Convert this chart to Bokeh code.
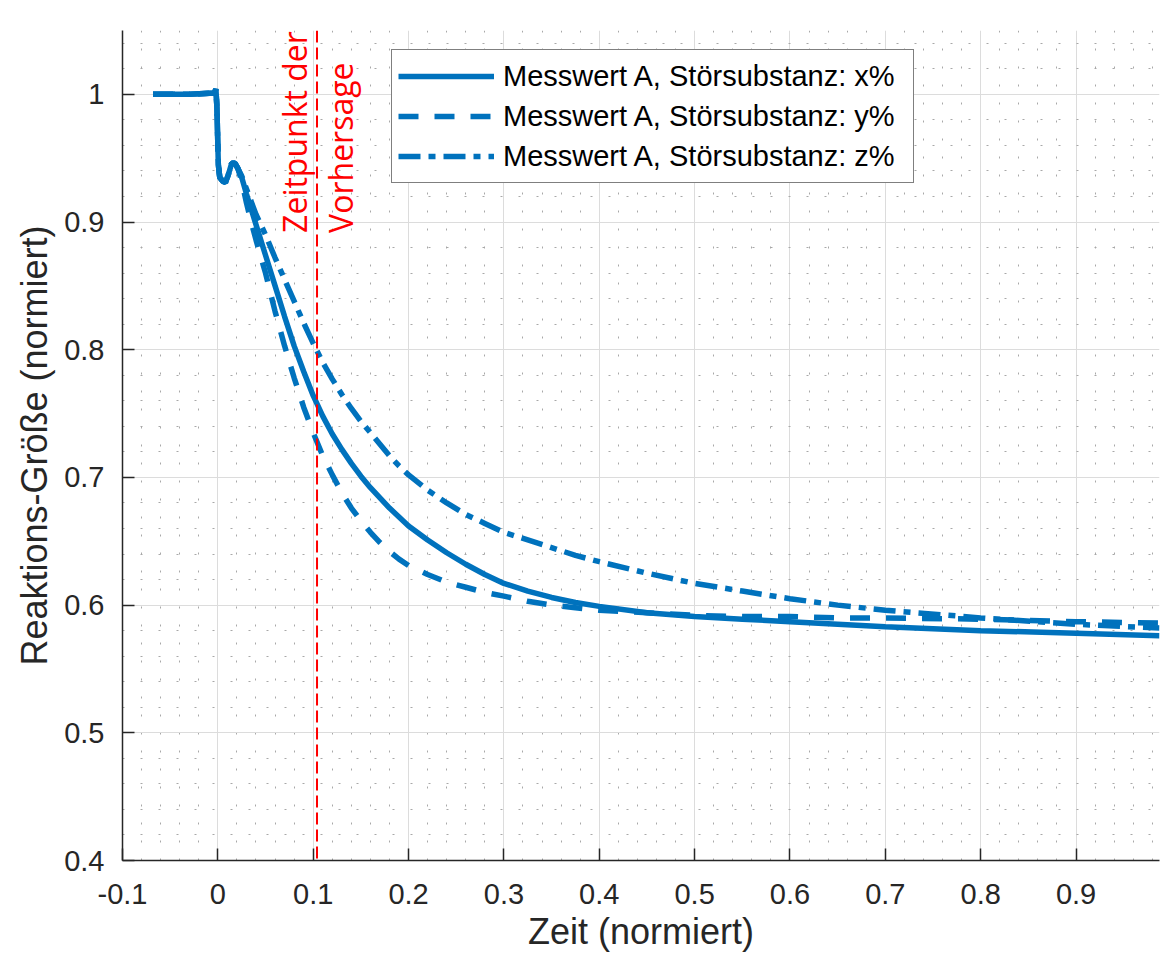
import math
from bokeh.plotting import figure
from bokeh.models import Range1d, FixedTicker, Label, Span, Legend, LegendItem
from bokeh.embed import file_html
from bokeh.resources import INLINE

# ---------------- data ----------------
# common start of all three measurements (baseline, step, small overshoot)
t_common = [-0.068, -0.03, -0.004, -0.002, -0.001, 0.0005, 0.002, 0.005, 0.008,
            0.011, 0.0145, 0.018, 0.021]
y_common = [1.0, 1.0, 1.001, 1.004, 0.99, 0.945, 0.935, 0.932, 0.931,
            0.937, 0.946, 0.946, 0.942]

t_decay = [0.025, 0.03, 0.035, 0.04, 0.05, 0.06, 0.07, 0.08, 0.09, 0.1, 0.11,
           0.12, 0.13, 0.14, 0.15, 0.16, 0.17, 0.18, 0.19, 0.2, 0.22, 0.24, 0.26,
           0.28, 0.3, 0.325, 0.35, 0.375, 0.4, 0.45, 0.5, 0.55, 0.6, 0.65, 0.7,
           0.8, 0.9, 0.9875]

y_x = [0.935, 0.922, 0.91, 0.898, 0.874, 0.85, 0.826, 0.803, 0.783, 0.764, 0.748,
       0.734, 0.722, 0.711, 0.701, 0.692, 0.684, 0.676, 0.669, 0.662, 0.651, 0.641, 0.632,
       0.624, 0.617, 0.611, 0.606, 0.602, 0.599, 0.594, 0.591, 0.589, 0.587, 0.585, 0.583,
       0.580, 0.578, 0.576]
y_y = [0.932, 0.915, 0.9, 0.886, 0.86, 0.83, 0.803, 0.778, 0.755, 0.735, 0.717,
       0.702, 0.688, 0.676, 0.666, 0.657, 0.649, 0.642, 0.636, 0.631, 0.624, 0.618, 0.614,
       0.610, 0.607, 0.603, 0.600, 0.598, 0.596, 0.594, 0.592, 0.591, 0.591, 0.590, 0.590,
       0.589, 0.587, 0.586]
y_z = [0.936, 0.926, 0.916, 0.906, 0.89, 0.872, 0.855, 0.838, 0.821, 0.805, 0.79,
       0.777, 0.765, 0.754, 0.744, 0.735, 0.726, 0.717, 0.709, 0.702, 0.69, 0.68, 0.671,
       0.664, 0.657, 0.651, 0.645, 0.639, 0.634, 0.625, 0.617, 0.611, 0.605, 0.600, 0.596,
       0.590, 0.585, 0.582]

series_labels = ["Messwert A, Störsubstanz: x%",
                 "Messwert A, Störsubstanz: y%",
                 "Messwert A, Störsubstanz: z%"]

x_ticks = [-0.1, 0.0, 0.1, 0.2, 0.3, 0.4, 0.5, 0.6, 0.7, 0.8, 0.9]
x_tick_labels = ["-0.1", "0", "0.1", "0.2", "0.3", "0.4", "0.5", "0.6", "0.7", "0.8", "0.9"]
y_ticks = [0.4, 0.5, 0.6, 0.7, 0.8, 0.9, 1.0]
y_tick_labels = ["0.4", "0.5", "0.6", "0.7", "0.8", "0.9", "1"]

t_prediction = 0.104

# ---------------- figure ----------------
BLUE = "#0072BD"
AX = "#262626"
FONT = "Liberation Sans"

p = figure(width=1160, height=959,
           x_range=Range1d(-0.1, 0.9875), y_range=Range1d(0.4, 1.05),
           output_backend="svg", toolbar_location=None,
           min_border_left=122, min_border_right=1,
           min_border_top=30, min_border_bottom=99)
p.outline_line_color = None
p.background_fill_color = "white"
p.border_fill_color = "white"

x_minor = [round(-0.1 + 0.02 * i, 4) for i in range(0, 55)]
x_minor = [v for v in x_minor if all(abs(v - m) > 1e-6 for m in x_ticks)]
y_minor = [round(0.4 + 0.02 * i, 4) for i in range(0, 33)]
y_minor = [v for v in y_minor if all(abs(v - m) > 1e-6 for m in y_ticks)]

p.xaxis.ticker = FixedTicker(ticks=x_ticks, minor_ticks=x_minor)
p.yaxis.ticker = FixedTicker(ticks=y_ticks, minor_ticks=y_minor)
p.xaxis.major_label_overrides = {t: l for t, l in zip(x_ticks, x_tick_labels)}
p.yaxis.major_label_overrides = {t: l for t, l in zip(y_ticks, y_tick_labels)}

for ax in (p.xaxis[0], p.yaxis[0]):
    ax.axis_line_color = AX
    ax.axis_line_width = 1.5
    ax.major_tick_in = 12
    ax.major_tick_out = 0
    ax.major_tick_line_color = AX
    ax.major_tick_line_width = 1.5
    ax.minor_tick_in = 0
    ax.minor_tick_out = 0
    ax.major_label_text_font = FONT
    ax.major_label_text_font_size = "29px"
    ax.major_label_text_color = AX
    ax.axis_label_text_font = FONT
    ax.axis_label_text_font_size = "36px"
    ax.axis_label_text_font_style = "normal"
    ax.axis_label_text_color = AX

p.xaxis.axis_label = "Zeit (normiert)"
p.yaxis.axis_label = "Reaktions-Größe (normiert)"
p.xaxis.major_label_standoff = 23
p.yaxis.major_label_standoff = 18
p.xaxis.axis_label_standoff = 4
p.yaxis.axis_label_standoff = 6

for g in (p.xgrid[0], p.ygrid[0]):
    g.grid_line_color = "#dcdcdc"
    g.grid_line_width = 1
    g.minor_grid_line_color = "#a8a8a8"
    g.minor_grid_line_width = 1
    g.minor_grid_line_dash = "2 16"

# ---------------- curves ----------------
tx = t_common + t_decay
r1 = p.line(tx, y_common + y_x, line_color=BLUE, line_width=5.5)
r2 = p.line(tx, y_common + y_y, line_color=BLUE, line_width=5.5, line_dash="20 16")
r3 = p.line(tx, y_common + y_z, line_color=BLUE, line_width=5.5, line_dash="22 8 7 8")

# ---------------- prediction marker ----------------
span = Span(location=t_prediction, dimension="height", line_color="#ff0000",
            line_width=2, line_dash="12 5")
p.add_layout(span)

for txt, off in (("Zeitpunkt der", -23), ("Vorhersage", 23)):
    p.add_layout(Label(x=t_prediction, y=0.8915, x_offset=off, text=txt,
                       angle=math.pi / 2, text_align="left", text_baseline="middle",
                       text_color="#ff0000", text_font="Open Sans",
                       text_font_size="32px"))

# ---------------- legend ----------------
legend = Legend(items=[LegendItem(label=series_labels[0], renderers=[r1]),
                       LegendItem(label=series_labels[1], renderers=[r2]),
                       LegendItem(label=series_labels[2], renderers=[r3])],
                location=(269, 677))
legend.border_line_color = "black"
legend.border_line_width = 1
legend.background_fill_color = "white"
legend.background_fill_alpha = 1
legend.padding = 6
legend.margin = 0
legend.spacing = 0
legend.glyph_width = 96
legend.glyph_height = 40
legend.label_height = 40
legend.label_width = 404
legend.label_standoff = 9
legend.label_text_font = FONT
legend.label_text_font_size = "29px"
legend.label_text_color = "black"
legend.label_text_baseline = "middle"
p.add_layout(legend)

open("out.html", "w").write(file_html(p, INLINE))
